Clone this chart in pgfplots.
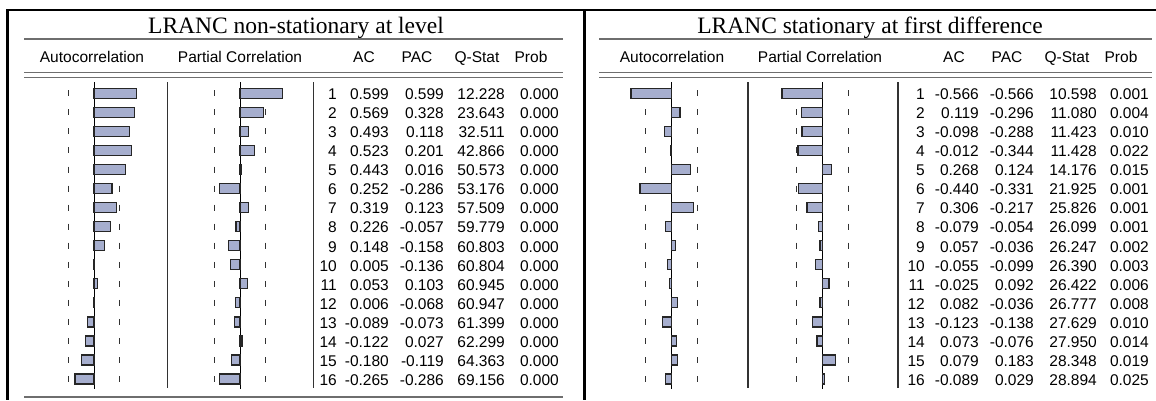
\documentclass[border=0pt]{standalone}
\usepackage{pgfplots}
\pgfplotsset{compat=1.18}
\usepackage{pgfplotstable}
\usepackage{fontspec}
\setmainfont{Liberation Serif}
\newfontfamily\arial{Liberation Sans}

\definecolor{barfill}{RGB}{166,174,206}
\definecolor{rulegray}{RGB}{110,110,110}
\definecolor{sepgray}{RGB}{50,50,50}

\pgfplotstableread{
lag ac pac q prob
1 0.599 0.599 12.228 0.000
2 0.569 0.328 23.643 0.000
3 0.493 0.118 32.511 0.000
4 0.523 0.201 42.866 0.000
5 0.443 0.016 50.573 0.000
6 0.252 -0.286 53.176 0.000
7 0.319 0.123 57.509 0.000
8 0.226 -0.057 59.779 0.000
9 0.148 -0.158 60.803 0.000
10 0.005 -0.136 60.804 0.000
11 0.053 0.103 60.945 0.000
12 0.006 -0.068 60.947 0.000
13 -0.089 -0.073 61.399 0.000
14 -0.122 0.027 62.299 0.000
15 -0.180 -0.119 64.363 0.000
16 -0.265 -0.286 69.156 0.000
}\tabL

\pgfplotstableread{
lag ac pac q prob
1 -0.566 -0.566 10.598 0.001
2 0.119 -0.296 11.080 0.004
3 -0.098 -0.288 11.423 0.010
4 -0.012 -0.344 11.428 0.022
5 0.268 0.124 14.176 0.015
6 -0.440 -0.331 21.925 0.001
7 0.306 -0.217 25.826 0.001
8 -0.079 -0.054 26.099 0.001
9 0.057 -0.036 26.247 0.002
10 -0.055 -0.099 26.390 0.003
11 -0.025 0.092 26.422 0.006
12 0.082 -0.036 26.777 0.008
13 -0.123 -0.138 27.629 0.010
14 0.073 -0.076 27.950 0.014
15 0.079 0.183 28.348 0.019
16 -0.089 0.029 28.894 0.025
}\tabR

\pgfplotsset{corr/.style={hide axis, clip=false, x=71.5pt, y=19.05pt, y dir=reverse,
  xmin=-0.8, xmax=0.8, ymin=0.5, ymax=16.5, anchor=north west}}

% #1 zero x (px), #2 table, #3 column, #4 bound
\newcommand\corrcol[4]{%
\begin{axis}[corr, at={({#1pt-57.2pt},-83.775pt)}]
\addplot[draw=sepgray, line width=1.3pt, dash pattern=on 6pt off 13.05pt, dash phase=12.525pt] coordinates {(-#4,0.5) (-#4,16.5)};
\addplot[draw=sepgray, line width=1.3pt, dash pattern=on 6pt off 13.05pt, dash phase=12.525pt] coordinates {(#4,0.5) (#4,16.5)};
\addplot[black, line width=1pt] coordinates {(0,0.42) (0,16.53)};
\addplot[xbar, bar width=10pt, bar shift=0pt, fill=barfill, draw=black!85, line width=1.2pt] table[x=#3, y=lag] {#2};
\end{axis}}

\tikzset{numtxt/.style={anchor=base east, inner sep=0pt, text=black, font=\arial\fontsize{15.5}{18}\selectfont},
  hdr/.style={anchor=base, inner sep=0pt, text=black, font=\arial\fontsize{15.5}{18}\selectfont},
  ttl/.style={anchor=base, inner sep=0pt, text=black, font=\fontsize{23.5}{28}\selectfont}}

% #1 table, #2..#6 right edges
\newcommand\tabtext[6]{%
\foreach \i in {0,...,15}{%
  \pgfmathsetmacro\yy{-(93.3+\i*19.05+6.3)}%
  \pgfplotstablegetelem{\i}{lag}\of{#1}\let\vA\pgfplotsretval
  \pgfplotstablegetelem{\i}{ac}\of{#1}\let\vB\pgfplotsretval
  \pgfplotstablegetelem{\i}{pac}\of{#1}\let\vC\pgfplotsretval
  \pgfplotstablegetelem{\i}{q}\of{#1}\let\vD\pgfplotsretval
  \pgfplotstablegetelem{\i}{prob}\of{#1}\let\vE\pgfplotsretval
  \node[numtxt] at (#2pt,\yy pt) {\vA};
  \node[numtxt] at (#3pt,\yy pt) {\vB};
  \node[numtxt] at (#4pt,\yy pt) {\vC};
  \node[numtxt] at (#5pt,\yy pt) {\vD};
  \node[numtxt] at (#6pt,\yy pt) {\vE};
}}

\begin{document}
\begin{tikzpicture}
% frame
\draw[black, line width=2pt] (7.3pt,-10pt) -- (1156pt,-10pt);
\draw[black, line width=2.5pt] (7.3pt,-9pt) -- (7.3pt,-400pt);
\draw[black, line width=2.3pt] (584.5pt,-9pt) -- (584.5pt,-400pt);
% left panel rules
\draw[rulegray, line width=2pt] (24pt,-39pt) -- (563pt,-39pt);
\draw[rulegray, line width=1.3pt] (24pt,-72.7pt) -- (563pt,-72.7pt);
\draw[rulegray, line width=1.3pt] (24pt,-77.5pt) -- (563pt,-77.5pt);
\draw[rulegray, line width=2pt] (24pt,-397.3pt) -- (563pt,-397.3pt);
% right panel rules
\draw[rulegray, line width=2pt] (599pt,-39pt) -- (1152pt,-39pt);
\draw[rulegray, line width=1.3pt] (599pt,-72.7pt) -- (1152pt,-72.7pt);
\draw[rulegray, line width=1.3pt] (599pt,-77.5pt) -- (1152pt,-77.5pt);
% separators
\draw[sepgray, line width=1.3pt] (167.7pt,-82pt) -- (167.7pt,-388pt);
\draw[sepgray, line width=1.3pt] (313.3pt,-82pt) -- (313.3pt,-388pt);
\draw[sepgray, line width=1.3pt] (748pt,-82pt) -- (748pt,-388pt);
\draw[sepgray, line width=1.3pt] (898pt,-82pt) -- (898pt,-388pt);
% titles
\node[ttl] at (296pt,-33pt) {LRANC non-stationary at level};
\node[ttl] at (870pt,-33pt) {LRANC stationary at first difference};
% headers
\node[hdr] at (92pt,-62pt) {Autocorrelation};
\node[hdr] at (240pt,-62pt) {Partial Correlation};
\node[hdr] at (364pt,-62pt) {AC};
\node[hdr] at (417pt,-62pt) {PAC};
\node[hdr] at (477pt,-62pt) {Q-Stat};
\node[hdr] at (531pt,-62pt) {Prob};
\node[hdr] at (672pt,-62pt) {Autocorrelation};
\node[hdr] at (820pt,-62pt) {Partial Correlation};
\node[hdr] at (954pt,-62pt) {AC};
\node[hdr] at (1007pt,-62pt) {PAC};
\node[hdr] at (1067pt,-62pt) {Q-Stat};
\node[hdr] at (1121pt,-62pt) {Prob};
% bars
\corrcol{94}{\tabL}{ac}{0.354}
\corrcol{240}{\tabL}{pac}{0.354}
\corrcol{671.5}{\tabR}{ac}{0.36}
\corrcol{822.5}{\tabR}{pac}{0.36}
% numbers
\tabtext{\tabL}{337}{389}{444}{505}{559}
\tabtext{\tabR}{925}{979}{1034}{1097}{1149}
\pgfresetboundingbox
\useasboundingbox (0pt,0pt) rectangle (1156pt,-400pt);
\end{tikzpicture}
\end{document}
